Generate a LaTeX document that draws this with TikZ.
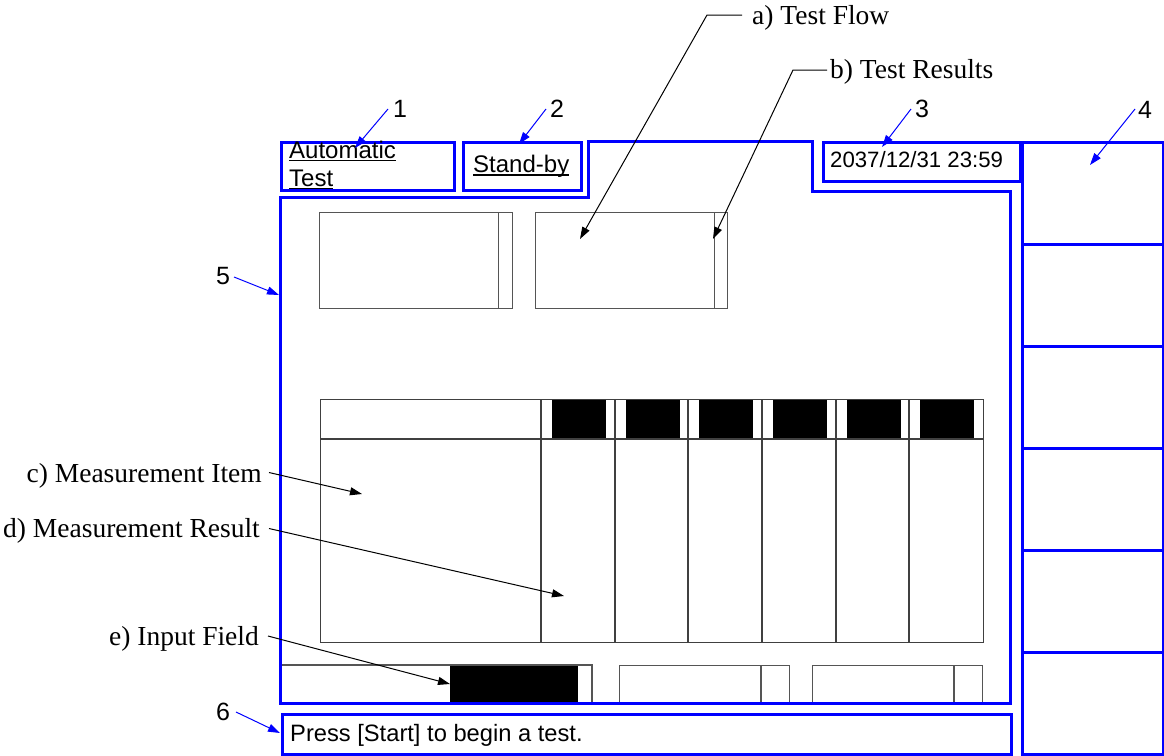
\documentclass[tikz,border=0pt]{standalone}
\usepackage{fontspec}
\setmainfont{Liberation Serif}
\newfontfamily\arialfont{Liberation Sans}
\usetikzlibrary{arrows.meta}
\definecolor{uiblue}{RGB}{0,0,255}
\definecolor{boxgray}{RGB}{85,85,85}
\begin{document}
\begin{tikzpicture}[x=1pt,y=-1pt,
  bluebox/.style={draw=uiblue,line width=3pt,inner sep=0pt,anchor=north west},
  bluepath/.style={draw=uiblue,line width=3pt,line join=miter},
  graybox/.style={draw=boxgray,line width=1.4pt,inner sep=0pt,anchor=north west},
  grayline/.style={draw=boxgray,line width=1.4pt},
  tableline/.style={draw=black!75,line width=1.3pt},
  callout/.style={draw=uiblue,line width=1pt,-{Triangle[length=12pt,width=8pt]}},
  leader/.style={draw=black,line width=1pt,-{Triangle[length=12pt,width=8pt]}},
  numlabel/.style={font=\arialfont\fontsize{25}{30}\selectfont,inner sep=0pt},
  serlabel/.style={font=\fontsize{27.5}{32}\selectfont,inner sep=0pt},
  uitext/.style={inner sep=0pt,anchor=base west},
]
\useasboundingbox (0,0) rectangle (1164,755);
\fill[white] (0,0) rectangle (1164,755);

% ---- inner gray frames (test flow / results)
\node[graybox,minimum width=193pt,minimum height=96pt] (fa) at (319,212) {};
\draw[grayline] ([xshift=-15pt]fa.north east) -- ([xshift=-15pt]fa.south east);
\node[graybox,minimum width=192pt,minimum height=96pt] (fb) at (535,212) {};
\draw[grayline] ([xshift=-14pt]fb.north east) -- ([xshift=-14pt]fb.south east);

% ---- measurement table
\foreach \x in {541,615,688,762,836,909}{
  \fill[black] (\x+11,399) rectangle (\x+65,439);
}
\node[graybox,draw=black!75,line width=1.3pt,minimum width=663pt,minimum height=243pt] (tbl) at (320,399) {};
\draw[tableline] (320,439) -- (983,439);
\foreach \x in {541,615,688,762,836,909}{
  \draw[tableline] (\x,399) -- (\x,642);
}

% ---- input fields
\fill[black] (450,665) rectangle (578,703);
\draw[grayline] (280,665) -- (592,665) -- (592,703);
\node[graybox,minimum width=170pt,minimum height=37pt] (f2) at (619,665) {};
\draw[grayline] (761,665) -- (761,702);
\node[graybox,minimum width=170pt,minimum height=37pt] (f3) at (812,665) {};
\draw[grayline] (954,665) -- (954,702);

% ---- blue UI frames
\node[bluebox,minimum width=173pt,minimum height=48pt] (b1) at (280,141) {};
\node[bluebox,minimum width=118pt,minimum height=48pt] (b2) at (462,141) {};
\node[bluebox,minimum width=197pt,minimum height=39pt] (b3) at (822,141) {};
\draw[bluepath] (280,197) -- (588,197) -- (588,141) -- (812,141) -- (812,191)
  -- (1010,191) -- (1010,703) -- (280,703) -- cycle;
\node[bluebox,minimum width=729pt,minimum height=40pt] (b6) at (281,713) {};
\foreach \i in {0,...,5}{
  \node[bluebox,minimum width=141pt,minimum height=102pt] (r\i) at (1021,141+102*\i) {};
}

% ---- UI texts
\node[uitext,font=\arialfont\fontsize{24}{28}\selectfont] (t1a) at (289,158) {Automatic};
\node[uitext,font=\arialfont\fontsize{24}{28}\selectfont] (t1b) at (289,186.5) {Test};
\draw[line width=1.4pt] ([yshift=-2.2pt]t1a.base west) -- ([yshift=-2.2pt]t1a.base east);
\draw[line width=1.4pt] ([yshift=-2.2pt]t1b.base west) -- ([yshift=-2.2pt]t1b.base east);
\node[uitext,font=\arialfont\fontsize{24}{28}\selectfont] (t2) at (473,172.5) {Stand-by};
\draw[line width=1.4pt] ([yshift=-2.4pt]t2.base west) -- ([yshift=-2.4pt]t2.base east);
\node[uitext,font=\arialfont\fontsize{22.2}{26}\selectfont] (t3) at (830,167.3) {2037/12/31 23:59};
\node[uitext,font=\arialfont\fontsize{23.7}{28}\selectfont] (t6) at (290,741.7) {Press [Start] to begin a test.};

% ---- numbered callouts (blue)
\node[numlabel] (n1) at (400,109) {1};
\node[numlabel] (n2) at (557,109) {2};
\node[numlabel] (n3) at (922,109) {3};
\node[numlabel] (n4) at (1145,110) {4};
\node[numlabel] (n5) at (223,276) {5};
\node[numlabel] (n6) at (223,712) {6};
\coordinate (s1) at (388,109);  \coordinate (e1) at (355,148);
\coordinate (s2) at (546,109);  \coordinate (e2) at (519,144);
\coordinate (s3) at (911,109);  \coordinate (e3) at (882,147);
\coordinate (s4) at (1135,109); \coordinate (e4) at (1090,165);
\coordinate (s5) at (234,277);  \coordinate (e5) at (279,295);
\coordinate (s6) at (236,712);  \coordinate (e6) at (280,733);
\foreach \i in {1,...,6}{ \draw[callout] (s\i) -- (e\i); }

% ---- lettered callouts (black)
\node[serlabel,anchor=base west] (la) at (752,24.5) {a) Test Flow};
\node[serlabel,anchor=base west] (lb) at (830,78) {b) Test Results};
\node[serlabel,anchor=base east] (lc) at (262,482) {c) Measurement Item};
\node[serlabel,anchor=base east] (ld) at (260,537) {d) Measurement Result};
\node[serlabel,anchor=base east] (le) at (259,645) {e) Input Field};
\coordinate (ha) at (742,15); \coordinate (ka) at (707,15); \coordinate (ea) at (580,239);
\coordinate (hb) at (827,70); \coordinate (kb) at (793,70); \coordinate (eb) at (713,239);
\coordinate (sc) at (269,472.5); \coordinate (ec) at (362,494);
\coordinate (sd) at (269,528.5); \coordinate (ed) at (564,596);
\coordinate (se) at (268,636);   \coordinate (ee) at (450,684);
\draw[leader] (ha) -- (ka) -- (ea);
\draw[leader] (hb) -- (kb) -- (eb);
\draw[leader] (sc) -- (ec);
\draw[leader] (sd) -- (ed);
\draw[leader] (se) -- (ee);
\end{tikzpicture}
\end{document}
